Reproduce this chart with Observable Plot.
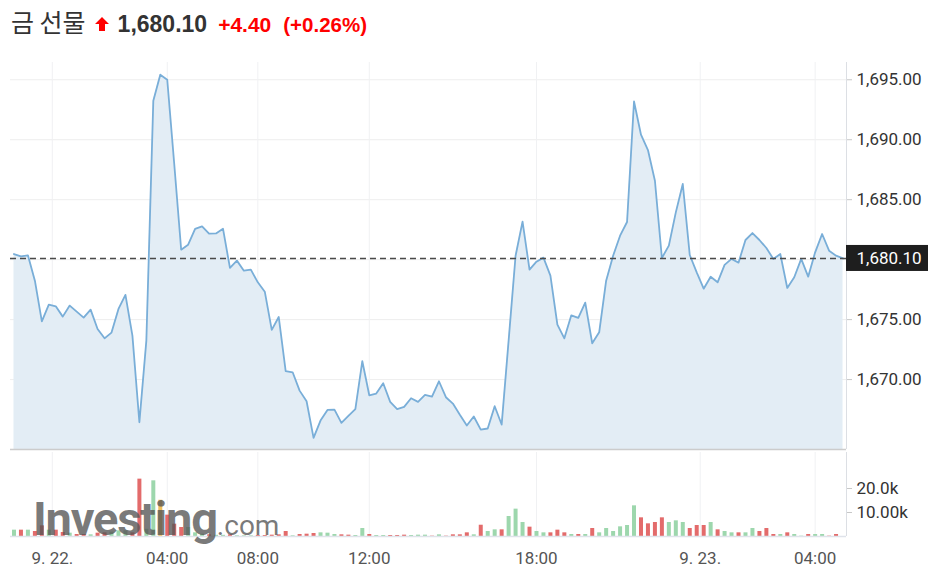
<!DOCTYPE html>
<html>
<head>
<meta charset="utf-8">
<script src="https://cdn.jsdelivr.net/npm/d3@7"></script>
<script src="https://cdn.jsdelivr.net/npm/@observablehq/plot@0.6"></script>
<style>
  html, body { margin: 0; padding: 0; background: #fff; }
  #wrap { position: relative; width: 938px; height: 576px; overflow: hidden; background: #fff; }
  #title { position: absolute; left: 11px; top: 9px; display: flex; align-items: baseline; white-space: nowrap; line-height: 1; }
  #title .name { font-family: "Noto Sans CJK KR", sans-serif; font-size: 25px; color: #333; }
  #title .arrow { margin-left: 9px; align-self: center; position: relative; top: 1px; }
  #title .price { margin-left: 9px; font-family: "Liberation Sans", Arial, sans-serif; font-weight: 700; font-size: 23px; color: #333; }
  #title .chg { margin-left: 11px; font-family: "Liberation Sans", Arial, sans-serif; font-weight: 700; font-size: 21px; color: #f00; }
  #title .pct { margin-left: 12px; font-family: "Liberation Sans", Arial, sans-serif; font-weight: 700; font-size: 20.5px; color: #f00; }
  #price { position: absolute; left: 0; top: 50px; }
  #vol { position: absolute; left: 0; top: 450px; }
</style>
</head>
<body>
<div id="wrap">
  <div id="title">
    <span class="name">금 선물</span>
    <svg class="arrow" width="14" height="14" viewBox="0 0 14 14"><path d="M7 0 L14 7 L10 7 L10 14 L4 14 L4 7 L0 7 Z" fill="#f00"/></svg>
    <span class="price" id="tPrice"></span>
    <span class="chg" id="tChg"></span>
    <span class="pct" id="tPct"></span>
  </div>
  <div id="price"></div>
  <div id="vol"></div>
</div>
<script>
// ---- data ----
const closes = [
  1680.47, 1680.28, 1680.36, 1678.25, 1674.86, 1676.25, 1676.11, 1675.25, 1676.17, 1675.67,
  1675.17, 1675.83, 1674.22, 1673.44, 1673.92, 1675.89, 1677.06, 1673.67, 1666.44, 1673.25,
  1693.25, 1695.42, 1695.00, 1688.00, 1680.83, 1681.25, 1682.56, 1682.78, 1682.17, 1682.19,
  1682.58, 1679.31, 1679.92, 1679.08, 1679.17, 1678.11, 1677.33, 1674.14, 1675.22, 1670.70,
  1670.61, 1669.08, 1668.19, 1665.14, 1666.58, 1667.47, 1667.50, 1666.39, 1666.97, 1667.53,
  1671.53, 1668.69, 1668.83, 1669.69, 1668.14, 1667.53, 1667.72, 1668.44, 1668.14, 1668.72,
  1668.58, 1669.86, 1668.53, 1668.00, 1667.06, 1666.17, 1666.92, 1665.83, 1665.92, 1667.78,
  1666.25, 1673.25, 1680.33, 1683.17, 1679.17, 1679.83, 1680.17, 1678.67, 1674.58, 1673.44,
  1675.36, 1675.14, 1676.42, 1673.03, 1673.94, 1678.25, 1680.33, 1682.00, 1683.14, 1693.19,
  1690.42, 1689.14, 1686.58, 1680.14, 1681.17, 1683.94, 1686.31, 1680.39, 1678.94, 1677.58,
  1678.58, 1678.11, 1679.56, 1680.06, 1679.75, 1681.64, 1682.22, 1681.64, 1680.97, 1680.06,
  1680.47, 1677.64, 1678.53, 1680.06, 1678.58, 1680.61, 1682.14, 1680.75, 1680.33, 1680.10
];
const volumes = [
  2640, 2640, 2640, 2080, 4440, 2640, 2640, 1670, 1390, 830,
  830, 700, 1390, 1530, 1800, 2360, 2360, 1530, 23900, 3000,
  23200, 15100, 8900, 5140, 3750, 3750, 1530, 970, 700, 500,
  500, 700, 280, 280, 280, 420, 420, 560, 700, 2080,
  280, 830, 970, 1250, 1530, 1390, 830, 700, 560, 420,
  3330, 830, 420, 420, 420, 420, 560, 420, 560, 560,
  140, 700, 140, 700, 700, 1530, 700, 4700, 2080, 2780,
  2780, 8330, 11400, 5830, 3890, 2080, 1530, 1530, 2640, 1530,
  830, 830, 830, 3330, 1530, 3330, 2080, 4030, 4580, 12780,
  7780, 5280, 5830, 7780, 5830, 6530, 5830, 3330, 4580, 4580,
  5830, 2780, 2080, 1530, 1530, 1530, 3330, 2080, 3330, 830,
  830, 1530, 830, 140, 830, 830, 830, 140, 830, 0
];
const volDir = [
  "up","down","up","down","down","up","down","down","up","down",
  "down","up","down","down","up","up","up","down","down","up",
  "up","flat","down","down","down","up","up","up","down","up",
  "up","down","up","up","up","down","down","down","down","down",
  "up","down","down","down","up","up","up","down","down","up",
  "up","down","up","up","down","down","down","up","up","up",
  "down","up","down","down","down","down","up","down","up","up",
  "down","up","up","up","down","up","up","down","down","down",
  "up","down","up","down","up","up","up","up","up","up",
  "down","down","down","down","up","up","up","down","down","down",
  "up","down","up","up","down","up","up","down","down","down",
  "up","down","up","up","down","up","up","down","down","down"
];
const xTickIdx = [5.5, 22, 35, 51, 75, 98.5, 115];
const xTickLabels = ["9. 22.", "04:00", "08:00", "12:00", "18:00", "9. 23.", "04:00"];
const priceGrid = [1670, 1675, 1680, 1685, 1690, 1695];
const priceAxisTicks = [1670, 1675, 1685, 1690, 1695];
const priceDomain = [1664.17, 1696.44];
const volTicks = [10000, 20000];
const volTickLabels = ["10.00k", "20.0k"];
const volDomain = [0, 35000];
const lastPrice = 1680.10;
const change = 4.40;
const changePct = 0.26;

// ---- title ----
const fmt2 = d3.format(",.2f");
document.getElementById("tPrice").textContent = fmt2(lastPrice);
document.getElementById("tChg").textContent = "+" + change.toFixed(2);
document.getElementById("tPct").textContent = "(+" + changePct.toFixed(2) + "%)";

const n = closes.length;
const rows = closes.map((c, i) => ({i, close: c}));
const vrows = volumes.map((v, i) => ({i, v, dir: volDir[i]}));
const W = 938;
const baseStyle = {fontFamily: "Roboto, sans-serif", fontSize: "17px", color: "#333", background: "transparent", overflow: "visible"};

// ---- price panel ----
const price = Plot.plot({
  width: W, height: 410,
  marginLeft: 10, marginRight: 92, marginTop: 12, marginBottom: 11,
  style: baseStyle,
  x: {domain: [-0.5, n - 0.5], axis: null},
  y: {domain: priceDomain, axis: null},
  marks: [
    Plot.gridY(priceGrid, {stroke: "#eeeeee", strokeOpacity: 1}),
    Plot.gridX(xTickIdx, {stroke: "#f0f1f3", strokeOpacity: 1}),
    Plot.areaY(rows, {x: "i", y1: priceDomain[0], y2: "close", fill: "#e3edf5"}),
    Plot.lineY(rows, {x: "i", y: "close", stroke: "#79aed8", strokeWidth: 1.8}),
    Plot.ruleY([lastPrice], {stroke: "#4a4a4a", strokeWidth: 1.4, strokeDasharray: "6,4"}),
    Plot.ruleY([priceDomain[0]], {stroke: "#cccccc", strokeWidth: 1.5}),
    Plot.ruleX([n - 0.5], {stroke: "#dcdfe4"}),
    Plot.axisY(priceAxisTicks, {anchor: "right", tickFormat: fmt2, tickSize: 5, tickPadding: 5, stroke: "#c8c8c8", fill: "#333", label: null}),
    Plot.text([lastPrice], {x: n - 0.5, y: d => d, dx: 10, text: d => fmt2(d), textAnchor: "start", fill: "#ffffff", fontSize: 17})
  ]
});
document.getElementById("price").appendChild(price);

// dark box behind the last-price label (the last mark group)
{
  const groups = price.querySelectorAll(":scope > g");
  const g = groups[groups.length - 1];
  const bb = g.getBBox();
  const x0 = price.scale("x").apply(n - 0.5);
  const yp = price.scale("y").apply(lastPrice);
  const rect = document.createElementNS("http://www.w3.org/2000/svg", "rect");
  rect.setAttribute("x", x0);
  rect.setAttribute("y", yp - 13);
  rect.setAttribute("width", Math.max(82, bb.x + bb.width + 5 - x0));
  rect.setAttribute("height", 26);
  rect.setAttribute("fill", "#1e1e1e");
  price.insertBefore(rect, g);
}

// ---- volume panel ----
const colors = {up: "#9dd7ad", down: "#e36b6b", flat: "#f0c15e"};
const vol = Plot.plot({
  width: W, height: 126,
  marginLeft: 10, marginRight: 92, marginTop: 2, marginBottom: 40,
  style: baseStyle,
  x: {domain: [-0.5, n - 0.5], axis: null},
  y: {domain: volDomain, axis: null},
  marks: [
    Plot.gridX(xTickIdx, {stroke: "#f0f1f3", strokeOpacity: 1}),
    Plot.ruleX(vrows.filter(d => d.dir === "flat"), {x: "i", y1: 0, y2: "v", stroke: colors.flat, strokeWidth: 4}),
    Plot.ruleX(vrows.filter(d => d.dir === "down"), {x: "i", y1: 0, y2: "v", stroke: colors.down, strokeWidth: 4}),
    Plot.ruleX(vrows.filter(d => d.dir === "up"), {x: "i", y1: 0, y2: "v", stroke: colors.up, strokeWidth: 4}),
    Plot.ruleY([0], {stroke: "#dfe3ea", strokeWidth: 1.5}),
    Plot.ruleX([n - 0.5], {stroke: "#dcdfe4"}),
    Plot.axisY(volTicks, {anchor: "right", tickFormat: d => volTickLabels[volTicks.indexOf(d)], tickSize: 5, tickPadding: 5, stroke: "#c8c8c8", fill: "#333", label: null}),
    Plot.axisX(xTickIdx, {anchor: "bottom", tickFormat: d => xTickLabels[xTickIdx.indexOf(d)], tickSize: 0, tickPadding: 15, fill: "#555", label: null})
  ]
});
document.getElementById("vol").appendChild(vol);

// watermark
{
  const wm = d3.select(vol).append("text")
    .attr("x", 33).attr("y", 85)
    .attr("text-anchor", "start")
    .attr("fill", "#555").attr("fill-opacity", 0.78)
    .style("font-family", "Roboto, sans-serif");
  wm.append("tspan").text("Investing").attr("font-size", 47).attr("font-weight", 700).attr("letter-spacing", "-1.2");
  wm.append("tspan").text(".com").attr("font-size", 28).attr("font-weight", 400).attr("dx", 0);
}
</script>
</body>
</html>
